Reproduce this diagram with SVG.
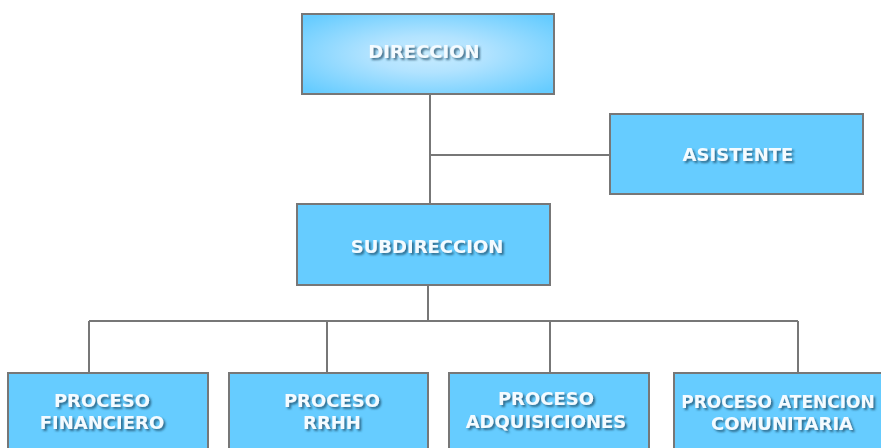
<svg xmlns="http://www.w3.org/2000/svg" width="881" height="448" viewBox="0 0 881 448">
<defs>
<radialGradient id="g1" cx="50%" cy="50%" r="65%">
<stop offset="0" stop-color="#c8ecff"/>
<stop offset="0.35" stop-color="#b2e3ff"/>
<stop offset="1" stop-color="#66ccff"/>
</radialGradient>
<filter id="sh" x="-10%" y="-30%" width="120%" height="160%">
<feGaussianBlur in="SourceAlpha" stdDeviation="1.2"/>
<feOffset dx="1.5" dy="2" result="b"/>
<feFlood flood-color="#1a4a66" flood-opacity="0.75"/>
<feComposite in2="b" operator="in"/>
<feMerge><feMergeNode/><feMergeNode in="SourceGraphic"/></feMerge>
</filter>
</defs>
<style>
.box{fill:#66ccff;stroke:#777;stroke-width:2}
.t{font-family:"DejaVu Sans",sans-serif;font-weight:bold;font-size:18px;fill:#f4fbff;text-anchor:middle;filter:url(#sh)}
.c{stroke:#777;stroke-width:2;fill:none}
</style>
<g id="connectors">
<path class="c" d="M430 94V204M430 155H610M428 285V321M89 321H798M89 321V373M327 321V373M550 321V373M798 321V373"/>
</g>
<g id="direccion"><rect class="box" x="302" y="14" width="252" height="80" style="fill:url(#g1)"/><text class="t" x="424" y="58">DIRECCION</text></g>
<g id="asistente"><rect class="box" x="610" y="114" width="253" height="80"/><text class="t" x="738" y="161">ASISTENTE</text></g>
<g id="subdireccion"><rect class="box" x="297" y="204" width="253" height="81"/><text class="t" x="427" y="253">SUBDIRECCION</text></g>
<g id="financiero"><rect class="box" x="8" y="373" width="200" height="80"/><text class="t" x="102" y="407">PROCESO</text><text class="t" x="102" y="429">FINANCIERO</text></g>
<g id="rrhh"><rect class="box" x="229" y="373" width="199" height="80"/><text class="t" x="332" y="407">PROCESO</text><text class="t" x="332" y="429">RRHH</text></g>
<g id="adquisiciones"><rect class="box" x="449" y="373" width="200" height="80"/><text class="t" x="546" y="405">PROCESO</text><text class="t" x="546" y="428">ADQUISICIONES</text></g>
<g id="atencion"><rect class="box" x="674" y="373" width="220" height="80"/><text class="t" x="778" y="408" style="font-size:17px">PROCESO ATENCION</text><text class="t" x="782" y="430">COMUNITARIA</text></g>
</svg>
